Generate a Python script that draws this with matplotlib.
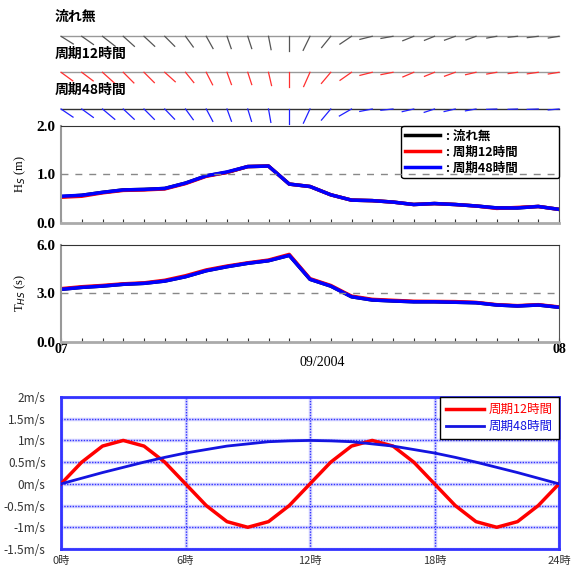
import matplotlib
matplotlib.use("Agg")

import numpy as np
import matplotlib.pyplot as plt

plt.rcParams["font.family"] = ["Noto Sans CJK JP", "DejaVu Sans"]

W, H = 586, 569

hours = list(range(25))

# wave height Hs (m), hourly, 07-08 Sep 2004
hs_none = [0.54, 0.57, 0.63, 0.68, 0.69, 0.71, 0.82, 0.97, 1.04, 1.16, 1.17, 0.80, 0.75,
           0.58, 0.47, 0.46, 0.43, 0.38, 0.40, 0.38, 0.35, 0.31, 0.31, 0.34, 0.28]
hs_p12 = [0.53, 0.55, 0.62, 0.67, 0.68, 0.70, 0.81, 0.96, 1.04, 1.16, 1.17, 0.80, 0.75,
          0.58, 0.47, 0.46, 0.43, 0.38, 0.40, 0.38, 0.35, 0.30, 0.32, 0.34, 0.28]
hs_p48 = [0.55, 0.57, 0.63, 0.68, 0.69, 0.71, 0.82, 0.97, 1.05, 1.16, 1.17, 0.80, 0.75,
          0.58, 0.47, 0.46, 0.43, 0.38, 0.40, 0.38, 0.35, 0.31, 0.31, 0.34, 0.28]

# wave period Ts (s)
ts_none = [3.24, 3.36, 3.44, 3.55, 3.61, 3.75, 4.02, 4.39, 4.64, 4.85, 5.01, 5.34, 3.86,
           3.44, 2.78, 2.58, 2.52, 2.47, 2.47, 2.44, 2.41, 2.27, 2.21, 2.27, 2.13]
ts_p12 = [3.28, 3.40, 3.48, 3.58, 3.64, 3.80, 4.08, 4.44, 4.68, 4.88, 5.05, 5.40, 3.90,
          3.48, 2.82, 2.62, 2.56, 2.50, 2.49, 2.48, 2.43, 2.29, 2.23, 2.29, 2.15]
ts_p48 = [3.24, 3.36, 3.44, 3.55, 3.61, 3.75, 4.02, 4.39, 4.64, 4.85, 5.01, 5.34, 3.86,
          3.44, 2.78, 2.58, 2.52, 2.47, 2.47, 2.44, 2.41, 2.27, 2.21, 2.27, 2.13]

# wave direction sticks (angle in degrees, magnitude)
dir_none = [-32, -35, -38, -42, -43, -45, -54, -61, -71, -72, -79, -90, -116,
            -129, -146, -166, -170, -158, -158, -160, -160, -170, -174, -173, -171]
dir_p12 = [-36, -37, -42, -45, -45, -42, -51, -63, -70, -72, -77, -90, -114,
           -130, -145, -166, -169, -157, -158, -160, -167, -170, -172, -172, -171]
dir_p48 = [-34, -36, -40, -43, -45, -46, -54, -62, -70, -73, -80, -90, -115,
           -130, -150, -169, -174, -167, -162, -167, -170, -178, -178, -178, -175]
stick_mag = [1.45, 1.43, 1.60, 1.50, 1.46, 1.41, 1.32, 1.40, 1.30, 1.29, 1.36, 1.45, 1.56,
             1.45, 1.40, 1.27, 1.22, 1.18, 1.08, 1.14, 1.07, 1.01, 0.94, 1.10, 1.08]

# current speed (m/s) at hour 0..24
vel_p12 = [0, 0.5, 0.87, 1.0, 0.87, 0.5, 0, -0.5, -0.87, -1.0, -0.87, -0.5, 0,
           0.5, 0.87, 1.0, 0.87, 0.5, 0, -0.5, -0.87, -1.0, -0.87, -0.5, 0]
vel_p48 = [0, 0.13, 0.26, 0.38, 0.5, 0.61, 0.71, 0.79, 0.87, 0.92, 0.97, 0.99, 1.0,
           0.99, 0.97, 0.92, 0.87, 0.79, 0.71, 0.61, 0.5, 0.38, 0.26, 0.13, 0]

case_names = ["流れ無", "周期12時間", "周期48時間"]
vel_yticks = [-1.5, -1, -0.5, 0, 0.5, 1, 1.5, 2]
vel_ylabels = ["-1.5m/s", "-1m/s", "-0.5m/s", "0m/s", "0.5m/s", "1m/s", "1.5m/s", "2m/s"]
vel_xticks = [0, 6, 12, 18, 24]
vel_xlabels = ["0時", "6時", "12時", "18時", "24時"]

fig = plt.figure(figsize=(W / 100, H / 100), dpi=100)


def px_axes(left, top, right, bottom):
    return fig.add_axes([left / W, 1 - bottom / H, (right - left) / W, (bottom - top) / H])


def px_text(x, y, s, **kw):
    fig.text(x / W, 1 - y / H, s, **kw)


############################################################
# Direction sticks
############################################################

ax_s = px_axes(61, 0, 559, 124)
ax_s.set_xlim(0, 24)
ax_s.set_ylim(124, 0)
ax_s.axis("off")

px_per_hour = 498 / 24
rows = [
    (36.3, dir_none, "#555555", "#999999"),
    (72.3, dir_p12, "#ff3030", "#999999"),
    (109.0, dir_p48, "#2020ff", "#333333"),
]
label_y = [17, 54, 90]

for (base, dirs, col, bcol), name, ly in zip(rows, case_names, label_y):
    ax_s.plot([0, 24], [base, base], color=bcol, lw=1.0, clip_on=False, zorder=1)
    for h, a, m in zip(hours, dirs, stick_mag):
        r = np.deg2rad(a)
        x1 = h + 10 * m * np.cos(r) / px_per_hour
        y1 = base - 10 * m * np.sin(r)
        ax_s.plot([h, x1], [base, y1], color=col, lw=0.9, clip_on=False, zorder=2)
    px_text(55, ly, name, fontsize=10, fontweight="bold", ha="left", va="center")

############################################################
# Hs and Ts panels
############################################################


def style_ts_axes(ax):
    ax.set_xlim(0, 24)
    ax.spines["left"].set_color("#999999")
    ax.spines["left"].set_linewidth(1.5)
    ax.spines["bottom"].set_color("#aaaaaa")
    ax.spines["bottom"].set_linewidth(2)
    ax.spines["top"].set_color("#333333")
    ax.spines["right"].set_color("#555555")
    ax.set_xticks(hours)
    ax.tick_params(axis="x", direction="in", length=3, color="#333333", width=0.8)
    ax.tick_params(axis="y", length=0, pad=4)
    for lab in ax.get_yticklabels():
        lab.set_fontfamily("Liberation Serif")
        lab.set_fontweight("bold")
        lab.set_fontsize(11)


ax_h = px_axes(61, 125.7, 559, 223)
ax_h.plot(hours, hs_none, color="black", lw=2.5, label=": 流れ無")
ax_h.plot(hours, hs_p12, color="red", lw=2.5, label=": 周期12時間")
ax_h.plot(hours, hs_p48, color="#0000ff", lw=2.5, label=": 周期48時間")
ax_h.axhline(1.0, color="#888888", lw=1, ls=(0, (5, 5)), zorder=6)
ax_h.set_ylim(0, 2)
ax_h.set_yticks([0, 1, 2])
ax_h.set_yticklabels(["0.0", "1.0", "2.0"])
ax_h.set_xticklabels([])
style_ts_axes(ax_h)
ax_h.set_ylabel("H$_S$ (m)", fontsize=9, fontfamily="Liberation Serif", labelpad=6)
handles, labels = ax_h.get_legend_handles_labels()
labels = [lab + "\u3000\u3000\u3000" for lab in labels]
leg = ax_h.legend(handles, labels, loc="upper right", bbox_to_anchor=(1.0, 1.0),
                  borderaxespad=0, fancybox=True, framealpha=1, edgecolor="black",
                  handlelength=2.8, handletextpad=0.5, labelspacing=0.25,
                  borderpad=0.3, prop={"size": 9, "weight": "bold"})
leg.get_frame().set_linewidth(1.0)
leg.set_zorder(5)

ax_t = px_axes(61, 244.7, 559, 341.7)
ax_t.plot(hours, ts_none, color="black", lw=2.5)
ax_t.plot(hours, ts_p12, color="red", lw=2.5)
ax_t.plot(hours, ts_p48, color="#0000ff", lw=2.5)
ax_t.axhline(3.0, color="#888888", lw=1, ls=(0, (5, 5)))
ax_t.set_ylim(0, 6)
ax_t.set_yticks([0, 3, 6])
ax_t.set_yticklabels(["0.0", "3.0", "6.0"])
ax_t.set_xticklabels(["07"] + [""] * 23 + ["08"])
style_ts_axes(ax_t)
for lab in ax_t.get_xticklabels():
    lab.set_fontfamily("Liberation Serif")
    lab.set_fontweight("bold")
    lab.set_fontsize(10)
ax_t.tick_params(axis="x", pad=1)
ax_t.set_ylabel("T$_{HS}$ (s)", fontsize=9, fontfamily="Liberation Serif", labelpad=6)
px_text(322, 363, "09/2004", fontsize=10, fontfamily="Liberation Serif",
        ha="center", va="center")

############################################################
# Current speed panel
############################################################

ax_v = px_axes(61, 397, 559, 549)
for v in vel_yticks:
    ax_v.axhline(v, color="#d4d4ff", lw=2.5, zorder=0)
for xv in vel_xticks:
    ax_v.axvline(xv, color="#d4d4ff", lw=2.5, zorder=0)
ax_v.grid(True, color="#3333ff", lw=1, ls=(0, (1, 1)), zorder=1)
ax_v.plot(hours, vel_p12, color="#ff0000", lw=2.5, label="周期12時間", zorder=3)
ax_v.plot(hours, vel_p48, color="#1414e0", lw=2, label="周期48時間", zorder=3)
ax_v.set_xlim(0, 24)
ax_v.set_ylim(-1.5, 2)
ax_v.set_yticks(vel_yticks)
ax_v.set_yticklabels(vel_ylabels)
ax_v.set_xticks(vel_xticks)
ax_v.set_xticklabels(vel_xlabels)
ax_v.set_axisbelow(True)
ax_v.tick_params(length=0, labelsize=8.5, colors="#333333")
ax_v.tick_params(axis="x", pad=5, labelsize=8)
ax_v.tick_params(axis="y", pad=11)
for s in ax_v.spines.values():
    s.set_color("#3333ff")
    s.set_linewidth(2)
leg2 = ax_v.legend(loc="upper right", borderaxespad=0, fancybox=False, framealpha=1,
                   edgecolor="black", handlelength=3.0, handletextpad=0.4,
                   labelspacing=0.3, borderpad=0.5, labelcolor="linecolor",
                   prop={"size": 9})
leg2.get_frame().set_linewidth(1.0)

fig.savefig("out.png", dpi=100)
